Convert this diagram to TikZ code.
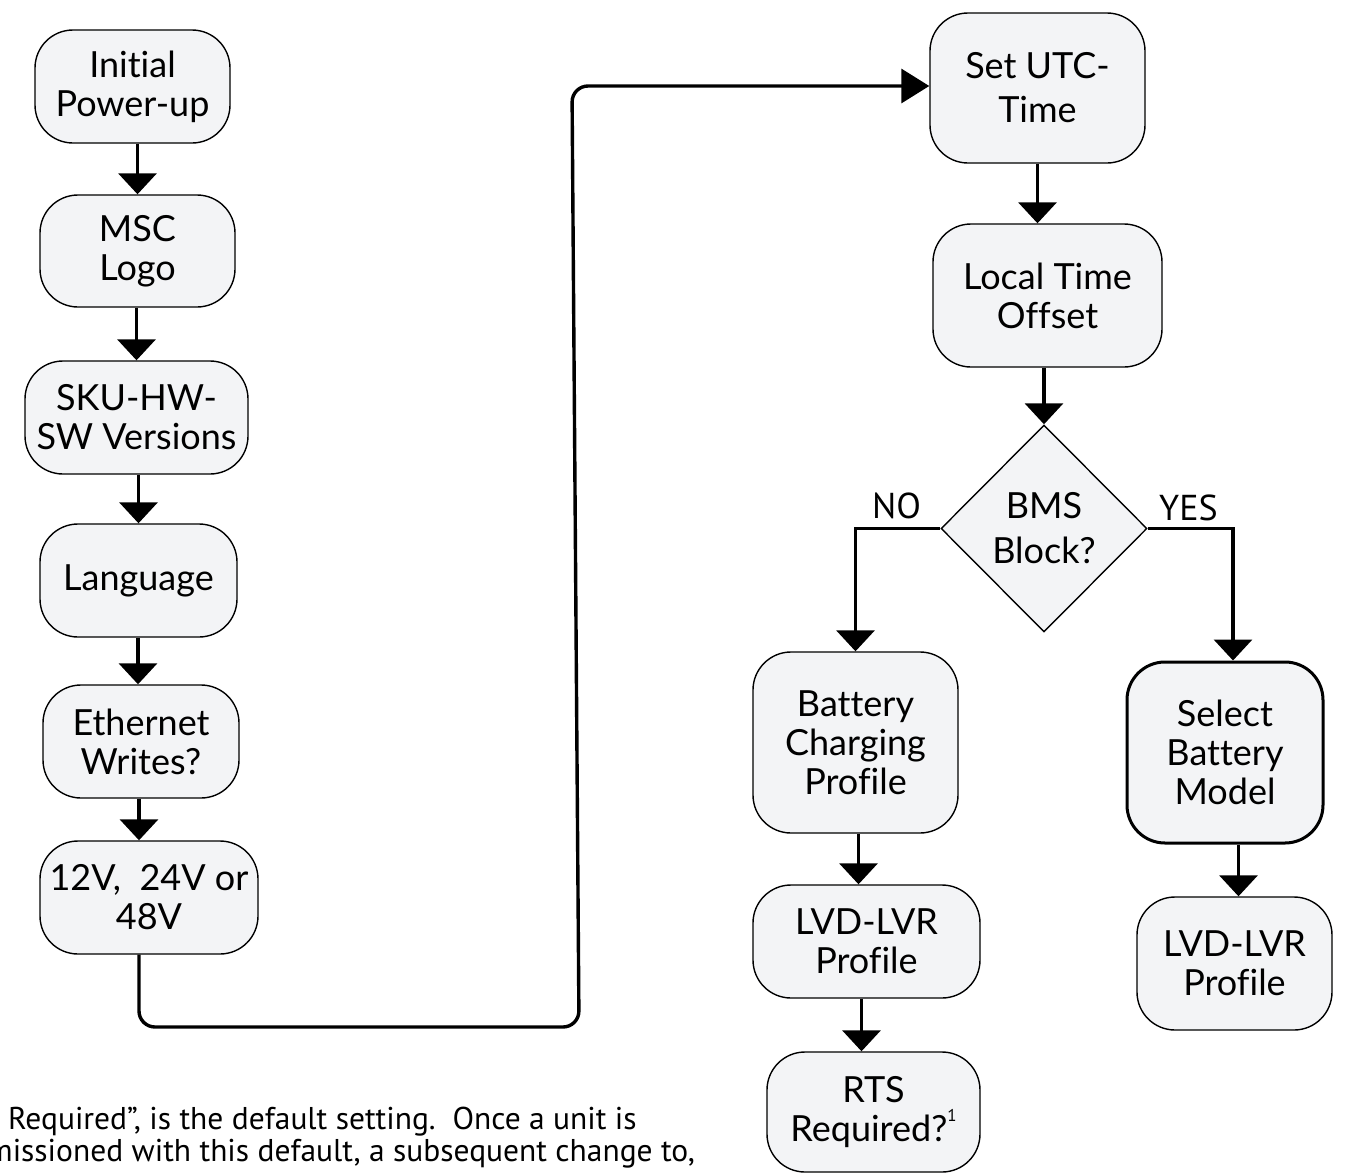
\documentclass[tikz,border=0pt]{standalone}
\usepackage{fontspec}
\setmainfont{Lato}[Ligatures=NoCommon]
\newfontfamily\notefont{PT Sans}
\usetikzlibrary{arrows.meta,shapes.geometric,calc}
\definecolor{boxfill}{RGB}{243,244,246}
\begin{document}
\begin{tikzpicture}[x=1pt,y=-1pt,
  box/.style={draw=black, line width=1.4pt, fill=boxfill, rounded corners=38pt,
    align=center, inner sep=0pt, font=\fontsize{36}{39}\selectfont},
  thickbox/.style={box, line width=3pt},
  decision/.style={diamond, aspect=1, draw=black, line width=1.4pt, fill=boxfill,
    align=center, inner sep=0pt, font=\fontsize{36}{45}\selectfont},
  arr/.style={line width=3.6pt, -{Triangle[length=21pt,width=38pt]}},
  conn/.style={line width=3.4pt, rounded corners=16pt, -{Triangle[length=28pt,width=34pt]}},
  branchlbl/.style={anchor=base west, inner sep=0pt, font=\notefont\fontsize{36}{38}\selectfont},
  note/.style={anchor=base west, inner sep=0pt, font=\notefont\fontsize{31.5}{34}\selectfont}
]
\useasboundingbox (0,0) rectangle (1345,1176);
\clip (0,0) rectangle (1345,1176);

% left column
\node[box, minimum width=195pt, minimum height=113pt] (init) at (132.5,86.5) {Initial\\Power-up};
\node[box, minimum width=195pt, minimum height=112pt] (msc) at (137.5,251) {MSC\\Logo};
\node[box, minimum width=223pt, minimum height=113pt] (sku) at (136.5,417.5) {SKU-HW-\\SW Versions};
\node[box, minimum width=197pt, minimum height=113pt] (lang) at (138.5,580.5) {Language};
\node[box, minimum width=196pt, minimum height=113pt] (eth) at (141,741.5) {Ethernet\\Writes?};
\node[box, minimum width=218pt, minimum height=113pt] (volt) at (149,897.5) {12V,\ \ 24V or\\48V};

% right part
\node[box, minimum width=215pt, minimum height=150pt, font=\fontsize{36}{44}\selectfont] (utc) at (1037.5,88) {Set UTC-\\Time};
\node[box, minimum width=229pt, minimum height=143pt] (local) at (1047.5,295.5) {Local Time\\Offset};
\node[decision, minimum width=206pt, minimum height=207pt] (bms) at (1044,528.5) {BMS\\Block?};
\node[box, minimum width=205pt, minimum height=181pt] (batt) at (855.5,742.5) {Battery\\Charging\\Profile};
\node[box, minimum width=227pt, minimum height=113pt] (lvdl) at (866.5,941.5) {LVD-LVR\\Profile};
\node[box, minimum width=213pt, minimum height=120pt] (rts) at (873.5,1112) {RTS\\Required?{\notefont\raisebox{0.55em}{\fontsize{17}{17}\selectfont 1}}};
\node[thickbox, minimum width=196pt, minimum height=181pt] (sel) at (1225,752.5) {Select\\Battery\\Model};
\node[box, minimum width=195pt, minimum height=133pt] (lvdr) at (1234.5,963.5) {LVD-LVR\\Profile};

% left column arrows
\draw[arr] (msc.north |- init.south) -- (msc.north);
\draw[arr] (sku.north |- msc.south) -- (sku.north);
\draw[arr] (lang.north |- sku.south) -- (lang.north);
\draw[arr] ([xshift=-3pt]eth.north |- lang.south) -- ([xshift=-3pt]eth.north);
\draw[arr] ([xshift=-10pt]volt.north |- eth.south) -- ([xshift=-10pt]volt.north);

% long connector
\coordinate (c1) at (579,1027);
\coordinate (c2) at (572,86);
\draw[conn] ([xshift=-10pt]volt.south) -- ([xshift=-10pt]volt.south |- c1) -- (c1) -- (c2) -- (c2 -| utc.west);

% right arrows
\draw[arr] (utc.south) -- (utc.south |- local.north);
\draw[arr] (bms.north |- local.south) -- (bms.north);
\draw[arr] (bms.west) -| (batt.north);
\draw[arr] (bms.east) -| ([xshift=8pt]sel.north);
\draw[arr] ([xshift=3pt]batt.south) -- ([xshift=3pt]batt.south |- lvdl.north);
\draw[arr] ([xshift=-5pt]lvdl.south) -- ([xshift=-5pt]lvdl.south |- rts.north);
\draw[arr] ([xshift=4pt]lvdr.north |- sel.south) -- ([xshift=4pt]lvdr.north);

% branch labels
\node[branchlbl] (nolbl) at (872,518) {NO};
\node[branchlbl] (yeslbl) at (1159,520) {YES};

% footnote (cut by the page edge, as in the reference)
\node[note] (note1) at (8,1129) {Required”, is the default setting.\ \ Once a unit is};
\node[note] (note2) at (-13,1161) {missioned with this default, a subsequent change to,};
\end{tikzpicture}
\end{document}
